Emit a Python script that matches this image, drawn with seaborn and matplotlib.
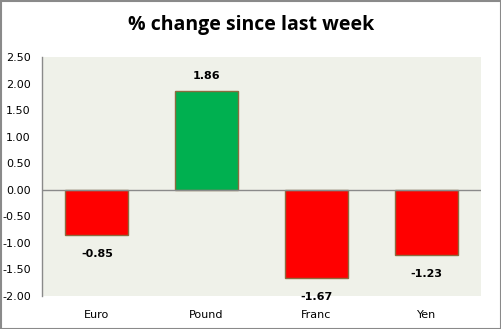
import matplotlib
matplotlib.use("Agg")
import matplotlib.pyplot as plt
import seaborn as sns
import pandas as pd

categories = ["Euro", "Pound", "Franc", "Yen"]
values = [-0.85, 1.86, -1.67, -1.23]
yticks = [2.5, 2.0, 1.5, 1.0, 0.5, 0.0, -0.5, -1.0, -1.5, -2.0]

df = pd.DataFrame({"cat": categories, "val": values})
colors = ["#FF0000" if v < 0 else "#00B050" for v in values]

sns.set_style("white")
plt.rcParams["text.color"] = "black"
plt.rcParams["xtick.color"] = "black"
plt.rcParams["ytick.color"] = "black"
fig = plt.figure(figsize=(5.02, 3.29), dpi=100)
ax = fig.add_axes([42/502, 1 - 296/329, (481-42)/502, (296-57)/329])
ax.set_facecolor("#EFF1E9")

sns.barplot(data=df, x="cat", y="val", hue="cat", palette=colors, legend=False,
            width=0.575, edgecolor="#8C6B3F", linewidth=1.0, ax=ax, saturation=1)

ax.set_ylim(-2.0, 2.5)
ax.set_xlim(-0.5, 3.5)
ax.set_yticks(yticks)
ax.set_yticklabels([f"{t:.2f}" for t in yticks], fontsize=8, family="DejaVu Sans")
ax.tick_params(axis="y", length=0, pad=8, labelcolor="black")
ax.tick_params(axis="x", length=0, pad=10, labelsize=8, labelcolor="black")
ax.set_xlabel("")
ax.set_ylabel("")
ax.axhline(0, color="#8A8A8A", linewidth=1.0, zorder=3)
for s in ["top", "right", "bottom"]:
    ax.spines[s].set_visible(False)
ax.spines["left"].set_color("#8A8A8A")
ax.spines["left"].set_linewidth(1.0)

for i, v in enumerate(values):
    if v < 0:
        ax.annotate(f"{v:.2f}", (i, v), xytext=(0, -10), textcoords="offset points",
                    ha="center", va="top", fontsize=8, fontweight="bold", color="black")
    else:
        ax.annotate(f"{v:.2f}", (i, v), xytext=(0, 7), textcoords="offset points",
                    ha="center", va="bottom", fontsize=8, fontweight="bold", color="black")

fig.text(0.5, 1 - 25/329, "% change since last week", ha="center", va="center",
         fontsize=14, fontweight="bold", family="Open Sans", color="black")

border = plt.Rectangle((0.001, 0.001), 0.997, 0.996, transform=fig.transFigure,
                       fill=False, edgecolor="#8A8A8A", linewidth=1.5)
fig.patches.append(border)

fig.savefig("out.png", dpi=100)
